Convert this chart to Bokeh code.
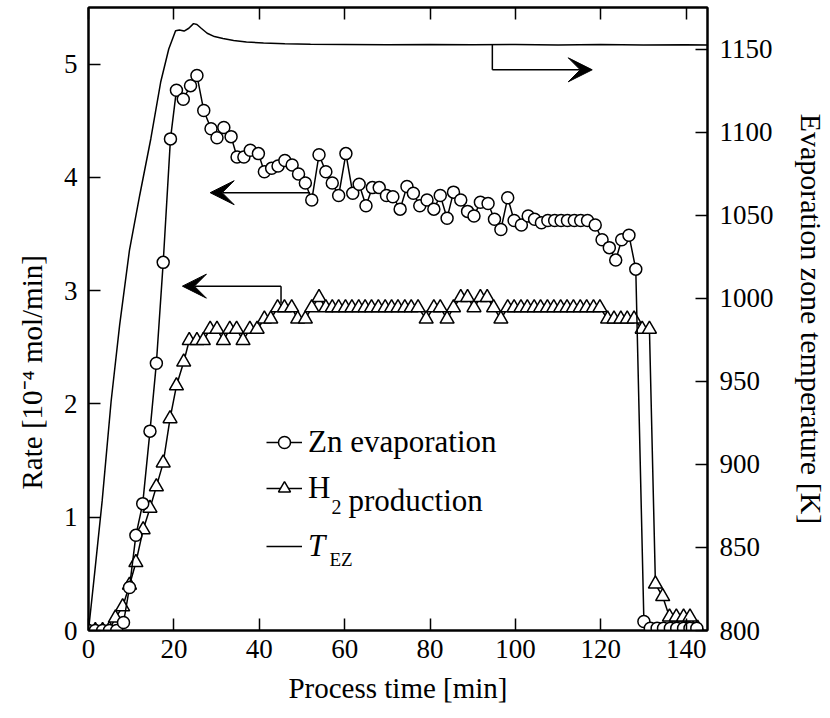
from bokeh.plotting import figure
from bokeh.models import (LinearAxis, Range1d, FixedTicker, Arrow, VeeHead,
                          Legend, LegendItem, Label, Title, CustomLabelingPolicy)
from bokeh.embed import file_html
from bokeh.resources import INLINE

# ---------------- data ----------------
time_zn = [0, 1.6, 3.3, 4.9, 6.6, 8.2, 9.6, 11.1, 12.7, 14.4,
           15.9, 17.5, 19.2, 20.6, 22.2, 23.9, 25.4, 27.0, 28.7, 30.1,
           31.7, 33.4, 34.8, 36.4, 37.9, 39.8, 41.2, 42.9, 44.4, 46.0,
           47.7, 49.2, 50.8, 52.3, 54.0, 55.6, 57.1, 58.6, 60.3, 61.9,
           63.4, 65.0, 66.5, 68.1, 69.8, 71.3, 73.0, 74.6, 76.1, 77.6,
           79.3, 80.9, 82.4, 84.0, 85.5, 87.2, 88.8, 90.3, 91.8, 93.6,
           95.1, 96.6, 98.2, 99.7, 101.4, 103.0, 104.5, 106.1, 107.6, 109.2,
           110.7, 112.2, 113.8, 115.3, 116.9, 118.7, 120.3, 122.0, 123.5, 124.9,
           126.6, 128.2, 130.1, 131.6, 133.2, 134.7, 136.3, 137.8, 139.4, 140.9,
           142.5]
rate_zn = [0, 0, 0, 0, 0, 0.07, 0.38, 0.84, 1.12, 1.76,
           2.36, 3.25, 4.34, 4.77, 4.69, 4.81, 4.90, 4.59, 4.43, 4.35,
           4.44, 4.36, 4.18, 4.18, 4.24, 4.21, 4.05, 4.08, 4.10, 4.15,
           4.11, 4.03, 3.95, 3.80, 4.20, 4.05, 3.95, 3.84, 4.21, 3.86,
           3.94, 3.75, 3.91, 3.91, 3.84, 3.83, 3.72, 3.92, 3.86, 3.75,
           3.80, 3.72, 3.84, 3.64, 3.87, 3.80, 3.70, 3.66, 3.78, 3.77,
           3.63, 3.54, 3.82, 3.62, 3.58, 3.66, 3.63, 3.60, 3.62, 3.62,
           3.62, 3.62, 3.62, 3.62, 3.62, 3.58, 3.45, 3.38, 3.27, 3.45,
           3.49, 3.19, 0.08, 0.02, 0.02, 0.02, 0.02, 0.02, 0.02, 0.02,
           0.02]

time_h2 = [0, 1.6, 3.3, 4.9, 6.3, 8.0, 9.6, 11.1, 12.8, 14.4,
           15.9, 17.5, 19.1, 20.6, 22.3, 23.6, 25.4, 26.9, 28.5, 30.1,
           31.6, 33.1, 34.7, 36.2, 37.8, 39.5, 41.2, 42.7, 44.3, 45.9,
           47.6, 49.0, 50.8, 52.3, 54.0, 55.6, 57.1, 58.6, 60.2, 61.7,
           63.3, 64.8, 66.3, 67.9, 69.5, 71.0, 72.5, 74.1, 75.6, 77.2,
           79.1, 80.9, 82.4, 84.0, 85.5, 87.2, 88.8, 90.3, 91.8, 93.4,
           94.9, 96.6, 98.2, 99.7, 101.3, 102.8, 104.4, 105.9, 107.5, 109.0,
           110.6, 112.1, 113.6, 115.2, 116.7, 118.3, 119.8, 121.6, 123.1, 124.7,
           126.2, 127.8, 129.7, 131.4, 132.8, 134.5, 136.1, 137.7, 139.4, 140.9,
           142.7]
rate_h2 = [0, 0, 0, 0.01, 0.11, 0.21, 0.40, 0.60, 0.89, 1.08,
           1.27, 1.48, 1.87, 2.16, 2.37, 2.56, 2.56, 2.56, 2.66, 2.66,
           2.56, 2.66, 2.66, 2.56, 2.66, 2.66, 2.75, 2.75, 2.85, 2.85,
           2.85, 2.75, 2.75, 2.85, 2.94, 2.85, 2.85, 2.85, 2.85, 2.85,
           2.85, 2.85, 2.85, 2.85, 2.85, 2.85, 2.85, 2.85, 2.85, 2.85,
           2.75, 2.85, 2.85, 2.75, 2.85, 2.94, 2.94, 2.85, 2.94, 2.94,
           2.85, 2.75, 2.85, 2.85, 2.85, 2.85, 2.85, 2.85, 2.85, 2.85,
           2.85, 2.85, 2.85, 2.85, 2.85, 2.85, 2.85, 2.75, 2.75, 2.75,
           2.75, 2.75, 2.66, 2.66, 0.41, 0.30, 0.12, 0.12, 0.12, 0.12,
           0.02]

time_t = [0, 1.5, 3.2, 5.3, 7.3, 9.6, 12.0, 14.6, 16.9, 18.8,
          20.4, 21.3, 22.4, 23.5, 24.6, 25.4, 26.4, 27.8, 29.5, 31.5,
          34.0, 37.0, 41.0, 46.0, 52.0, 60.0, 70.0, 80.0, 90.0, 100.0,
          110.0, 120.0, 130.0, 140.0, 145.0]
temp_t = [800, 836, 878, 938, 984, 1029, 1062, 1096, 1130, 1150,
          1161, 1161.5, 1160.8, 1162.5, 1165.3, 1164.8, 1162.5, 1159.5, 1157.5, 1156.3,
          1155.2, 1154.3, 1153.6, 1153.2, 1152.9, 1152.8, 1152.6, 1152.8, 1152.6, 1152.7,
          1152.5, 1152.7, 1152.5, 1152.6, 1152.5]

x_ticks = [0, 20, 40, 60, 80, 100, 120, 140]
rate_ticks = [0, 1, 2, 3, 4, 5]
temp_ticks = [800, 850, 900, 950, 1000, 1050, 1100, 1150]

# arrow annotations (data units)
zn_arrow_x = [51.9, 28.5]
zn_arrow_y = 3.865
h2_arrow_x = [45.1, 22.0]
h2_arrow_y = [2.89, 3.04]
t_arrow_x = [94.6, 118.0]
t_arrow_y = [1152.6, 1137.5]

FONT = "Liberation Serif"
TICK_FS = "27px"
LABEL_FS = "29px"
LEG_FS = "31px"

p = figure(width=830, height=718, output_backend="svg", toolbar_location=None,
           x_range=Range1d(0, 145), y_range=Range1d(0, 5.5),
           min_border_left=87, min_border_right=118, min_border_top=7,
           min_border_bottom=88, background_fill_color="white",
           border_fill_color="white")
p.extra_y_ranges = {"T": Range1d(800, 1175)}
p.grid.visible = False
p.outline_line_color = "black"
p.outline_line_width = 2


def style(ax):
    ax.axis_line_color = "black"
    ax.axis_line_width = 2
    ax.major_tick_in = 12
    ax.major_tick_out = 0
    ax.major_tick_line_width = 1.5
    ax.major_tick_line_color = "black"
    ax.minor_tick_line_color = None
    ax.major_label_text_font = FONT
    ax.major_label_text_font_size = TICK_FS
    ax.major_label_text_color = "black"
    ax.axis_label_text_font = FONT
    ax.axis_label_text_font_size = LABEL_FS
    ax.axis_label_text_font_style = "normal"
    ax.axis_label_text_color = "black"


xa = p.xaxis[0]
xa.ticker = FixedTicker(ticks=x_ticks)
xa.axis_label = "Process time [min]"
style(xa)
xa.major_label_standoff = 9
xa.axis_label_standoff = 11

ya = p.yaxis[0]
ya.ticker = FixedTicker(ticks=rate_ticks)
style(ya)
ya.major_label_standoff = 11

ra = LinearAxis(y_range_name="T", ticker=FixedTicker(ticks=temp_ticks),
                axis_label="Evaporation zone temperature [K]")
style(ra)
ra.axis_label_text_font_size = "30px"
ra.major_label_standoff = 12
ra.axis_label_standoff = 18
p.add_layout(ra, "right")

# top frame ticks, no labels
ta = LinearAxis(ticker=FixedTicker(ticks=x_ticks),
                major_label_policy=CustomLabelingPolicy(code="return []"))
style(ta)
ta.major_label_text_font_size = "1px"
ta.major_label_standoff = 0
p.add_layout(ta, "above")

# left title (rate axis), starting lower like the reference
p.add_layout(Title(text="Rate [10\u207b\u2074 mol/min]", align="left",
                   offset=141, standoff=26, text_font=FONT,
                   text_font_size=LABEL_FS, text_font_style="normal",
                   text_color="black"), "left")

# ---------------- series ----------------
t_line = p.line(time_t, temp_t, y_range_name="T", line_color="black", line_width=1.5)

h2_line = p.line(time_h2, rate_h2, line_color="black", line_width=1.5)
h2_pts = p.scatter(time_h2, rate_h2, marker="triangle", size=14,
                   fill_color="white", line_color="black", line_width=1.5)

zn_line = p.line(time_zn, rate_zn, line_color="black", line_width=1.5)
zn_pts = p.scatter(time_zn, rate_zn, marker="circle", size=12,
                   fill_color="white", line_color="black", line_width=1.5)

# ---------------- arrows ----------------
def head():
    return VeeHead(size=24, fill_color="black", line_color="black", line_width=1)

p.add_layout(Arrow(end=head(), x_start=zn_arrow_x[0], y_start=zn_arrow_y,
                   x_end=zn_arrow_x[1], y_end=zn_arrow_y, line_width=1.5))
p.add_layout(Arrow(end=None, x_start=h2_arrow_x[0], y_start=h2_arrow_y[0],
                   x_end=h2_arrow_x[0], y_end=h2_arrow_y[1], line_width=1.5))
p.add_layout(Arrow(end=head(), x_start=h2_arrow_x[0], y_start=h2_arrow_y[1],
                   x_end=h2_arrow_x[1], y_end=h2_arrow_y[1], line_width=1.5))
p.add_layout(Arrow(end=None, x_start=t_arrow_x[0], y_start=t_arrow_y[0],
                   x_end=t_arrow_x[0], y_end=t_arrow_y[1], line_width=1.5,
                   y_range_name="T"))
p.add_layout(Arrow(end=head(), x_start=t_arrow_x[0], y_start=t_arrow_y[1],
                   x_end=t_arrow_x[1], y_end=t_arrow_y[1], line_width=1.5,
                   y_range_name="T"))

# ---------------- legends ----------------
common = dict(orientation="vertical", padding=0, margin=0, glyph_height=30,
              glyph_width=36, label_height=30, label_standoff=6,
              border_line_color=None, background_fill_alpha=0,
              label_text_font=FONT, label_text_font_size=LEG_FS,
              label_text_color="black")
leg_a = Legend(items=[
    LegendItem(label="Zn evaporation", renderers=[zn_line, zn_pts]),
    LegendItem(label="H", renderers=[h2_line, h2_pts]),
], location=(178, 124), spacing=10, **common)
p.add_layout(leg_a)
leg_b = Legend(items=[LegendItem(label="T", renderers=[t_line])],
               location=(178, 66), spacing=0, **common)
leg_b.label_text_font_style = "italic"
leg_b.label_text_baseline = "alphabetic"
p.add_layout(leg_b)


def lab(text, x, y, size, style="normal"):
    p.add_layout(Label(x=x, y=y, x_units="screen", y_units="screen", text=text,
                       text_font=FONT, text_font_size=size, text_font_style=style,
                       text_color="black", text_baseline="alphabetic",
                       text_align="left"))


# subscripts / rest of legend texts
lab("2", 243, 124, "20px")
lab("production", 260, 130, LEG_FS)
lab("EZ", 241, 71, "19px")

open("out.html", "w").write(file_html(p, INLINE))
